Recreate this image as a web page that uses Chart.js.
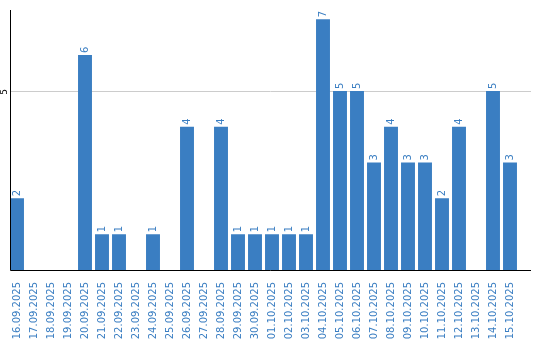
<!DOCTYPE html>
<html><head><meta charset="utf-8">
<script src="https://cdn.jsdelivr.net/npm/chart.js@4/dist/chart.umd.min.js"></script>
<style>html,body{margin:0;padding:0;background:#fff}#wrap{width:540px;height:340px}</style>
</head><body><div id="wrap"><canvas id="c" width="540" height="340"></canvas></div>
<script>
const categories = ["16.09.2025","17.09.2025","18.09.2025","19.09.2025","20.09.2025","21.09.2025","22.09.2025","23.09.2025","24.09.2025","25.09.2025","26.09.2025","27.09.2025","28.09.2025","29.09.2025","30.09.2025","01.10.2025","02.10.2025","03.10.2025","04.10.2025","05.10.2025","06.10.2025","07.10.2025","08.10.2025","09.10.2025","10.10.2025","11.10.2025","12.10.2025","13.10.2025","14.10.2025","15.10.2025"];
const counts = [2,0,0,0,6,1,1,0,1,0,4,0,4,1,1,1,1,1,7,5,5,3,4,3,3,2,4,0,5,3];
const yTickValues = [5];

const BLUE = '#3a7ec2';
const FONT = '"DejaVu Sans", Verdana, sans-serif';
const AXIS_X = 10;
const AXIS_RIGHT = 531;

const extras = {
  id: 'extras',
  beforeDatasetsDraw(chart) {
    const ctx = chart.ctx;
    const ys = chart.scales.y;
    ctx.save();
    ctx.strokeStyle = '#cccccc';
    ctx.lineWidth = 1;
    yTickValues.forEach(v => {
      const y = Math.round(ys.getPixelForValue(v)) + 0.5;
      ctx.beginPath();
      ctx.moveTo(AXIS_X, y);
      ctx.lineTo(AXIS_RIGHT, y);
      ctx.stroke();
    });
    ctx.restore();
  },
  afterDatasetsDraw(chart) {
    const ctx = chart.ctx;
    const meta = chart.getDatasetMeta(0);
    ctx.save();
    ctx.fillStyle = BLUE;
    ctx.font = '10px ' + FONT;
    ctx.textAlign = 'left';
    ctx.textBaseline = 'middle';
    meta.data.forEach((bar, i) => {
      const v = counts[i];
      if (!v) return;
      ctx.save();
      ctx.translate(bar.x, bar.y - 2);
      ctx.rotate(-Math.PI / 2);
      ctx.fillText(String(v), 0, 0);
      ctx.restore();
    });
    ctx.restore();
  },
  afterDraw(chart) {
    const ctx = chart.ctx;
    const ys = chart.scales.y;
    const a = chart.chartArea;
    ctx.save();
    ctx.strokeStyle = '#000';
    ctx.lineWidth = 1;
    ctx.beginPath();
    ctx.moveTo(AXIS_X + 0.5, a.top);
    ctx.lineTo(AXIS_X + 0.5, a.bottom + 0.5);
    ctx.lineTo(AXIS_RIGHT, a.bottom + 0.5);
    ctx.stroke();
    ctx.fillStyle = '#000';
    ctx.font = '9px ' + FONT;
    ctx.textAlign = 'center';
    ctx.textBaseline = 'middle';
    yTickValues.forEach(v => {
      ctx.save();
      ctx.translate(5, ys.getPixelForValue(v) + 1);
      ctx.rotate(-Math.PI / 2);
      ctx.fillText(String(v), 0, 0);
      ctx.restore();
    });
    ctx.restore();
  }
};

new Chart(document.getElementById('c'), {
  type: 'bar',
  data: {
    labels: categories,
    datasets: [{
      data: counts,
      backgroundColor: BLUE,
      borderWidth: 0,
      barPercentage: 0.82,
      categoryPercentage: 1.0
    }]
  },
  options: {
    responsive: false,
    animation: false,
    layout: { padding: { left: 0, top: 10, right: 21.5, bottom: 0 } },
    plugins: { legend: { display: false }, tooltip: { enabled: false } },
    scales: {
      x: {
        grid: { display: false },
        border: { display: false },
        ticks: {
          color: BLUE,
          font: { size: 10, family: FONT },
          minRotation: 90, maxRotation: 90,
          padding: 4,
          autoSkip: false
        },
        afterFit(s) { s.height = 70; }
      },
      y: {
        min: 0, max: 7.26,
        border: { display: false },
        grid: { display: false },
        ticks: { display: false },
        afterBuildTicks(s) { s.ticks = yTickValues.map(v => ({ value: v })); },
        afterFit(s) { s.width = 8.5; }
      }
    }
  },
  plugins: [extras]
});
</script>
</body></html>
